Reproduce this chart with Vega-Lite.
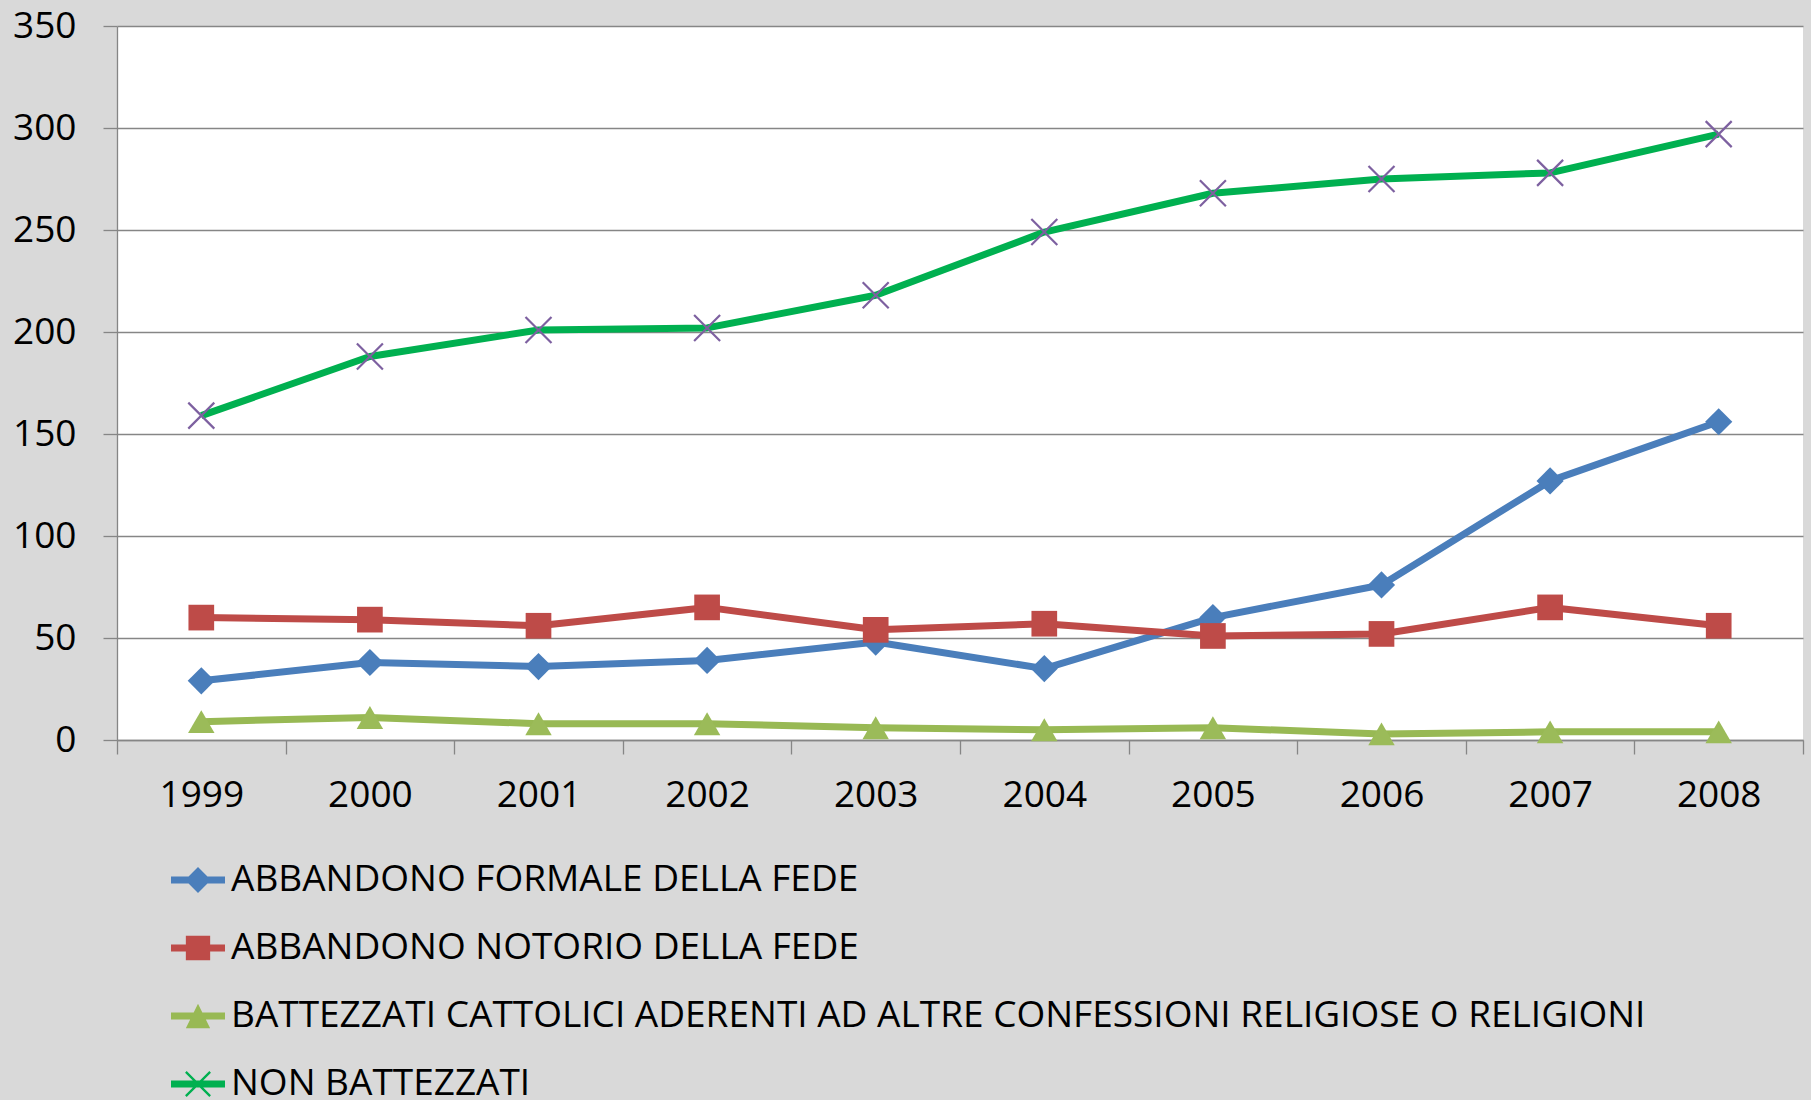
{
  "$schema": "https://vega.github.io/schema/vega-lite/v6.json",
  "width": 1686,
  "height": 714,
  "autosize": "none",
  "padding": {"left": 117, "top": 26, "right": 8, "bottom": 360},
  "background": "#d9d9d9",
  "config": {
    "view": {"fill": "white", "stroke": null},
    "font": "Open Sans",
    "legend": {
      "labelFont": "Open Sans",
      "labelFontSize": 37,
      "labelColor": "black",
      "labelLimit": 3000,
      "labelOffset": 6,
      "rowPadding": 23,
      "padding": 0,
      "symbolSize": 2916,
      "symbolStrokeWidth": 0,
      "symbolOpacity": 1
    }
  },
  "data": {
    "values": [
      {"anno": 1999, "serie": "ABBANDONO FORMALE DELLA FEDE", "valore": 29},
      {"anno": 2000, "serie": "ABBANDONO FORMALE DELLA FEDE", "valore": 38},
      {"anno": 2001, "serie": "ABBANDONO FORMALE DELLA FEDE", "valore": 36},
      {"anno": 2002, "serie": "ABBANDONO FORMALE DELLA FEDE", "valore": 39},
      {"anno": 2003, "serie": "ABBANDONO FORMALE DELLA FEDE", "valore": 48},
      {"anno": 2004, "serie": "ABBANDONO FORMALE DELLA FEDE", "valore": 35},
      {"anno": 2005, "serie": "ABBANDONO FORMALE DELLA FEDE", "valore": 60},
      {"anno": 2006, "serie": "ABBANDONO FORMALE DELLA FEDE", "valore": 76},
      {"anno": 2007, "serie": "ABBANDONO FORMALE DELLA FEDE", "valore": 127},
      {"anno": 2008, "serie": "ABBANDONO FORMALE DELLA FEDE", "valore": 156},
      {"anno": 1999, "serie": "ABBANDONO NOTORIO DELLA FEDE", "valore": 60},
      {"anno": 2000, "serie": "ABBANDONO NOTORIO DELLA FEDE", "valore": 59},
      {"anno": 2001, "serie": "ABBANDONO NOTORIO DELLA FEDE", "valore": 56},
      {"anno": 2002, "serie": "ABBANDONO NOTORIO DELLA FEDE", "valore": 65},
      {"anno": 2003, "serie": "ABBANDONO NOTORIO DELLA FEDE", "valore": 54},
      {"anno": 2004, "serie": "ABBANDONO NOTORIO DELLA FEDE", "valore": 57},
      {"anno": 2005, "serie": "ABBANDONO NOTORIO DELLA FEDE", "valore": 51},
      {"anno": 2006, "serie": "ABBANDONO NOTORIO DELLA FEDE", "valore": 52},
      {"anno": 2007, "serie": "ABBANDONO NOTORIO DELLA FEDE", "valore": 65},
      {"anno": 2008, "serie": "ABBANDONO NOTORIO DELLA FEDE", "valore": 56},
      {"anno": 1999, "serie": "BATTEZZATI CATTOLICI ADERENTI AD ALTRE CONFESSIONI RELIGIOSE O RELIGIONI", "valore": 9},
      {"anno": 2000, "serie": "BATTEZZATI CATTOLICI ADERENTI AD ALTRE CONFESSIONI RELIGIOSE O RELIGIONI", "valore": 11},
      {"anno": 2001, "serie": "BATTEZZATI CATTOLICI ADERENTI AD ALTRE CONFESSIONI RELIGIOSE O RELIGIONI", "valore": 8},
      {"anno": 2002, "serie": "BATTEZZATI CATTOLICI ADERENTI AD ALTRE CONFESSIONI RELIGIOSE O RELIGIONI", "valore": 8},
      {"anno": 2003, "serie": "BATTEZZATI CATTOLICI ADERENTI AD ALTRE CONFESSIONI RELIGIOSE O RELIGIONI", "valore": 6},
      {"anno": 2004, "serie": "BATTEZZATI CATTOLICI ADERENTI AD ALTRE CONFESSIONI RELIGIOSE O RELIGIONI", "valore": 5},
      {"anno": 2005, "serie": "BATTEZZATI CATTOLICI ADERENTI AD ALTRE CONFESSIONI RELIGIOSE O RELIGIONI", "valore": 6},
      {"anno": 2006, "serie": "BATTEZZATI CATTOLICI ADERENTI AD ALTRE CONFESSIONI RELIGIOSE O RELIGIONI", "valore": 3},
      {"anno": 2007, "serie": "BATTEZZATI CATTOLICI ADERENTI AD ALTRE CONFESSIONI RELIGIOSE O RELIGIONI", "valore": 4},
      {"anno": 2008, "serie": "BATTEZZATI CATTOLICI ADERENTI AD ALTRE CONFESSIONI RELIGIOSE O RELIGIONI", "valore": 4},
      {"anno": 1999, "serie": "NON BATTEZZATI", "valore": 159},
      {"anno": 2000, "serie": "NON BATTEZZATI", "valore": 188},
      {"anno": 2001, "serie": "NON BATTEZZATI", "valore": 201},
      {"anno": 2002, "serie": "NON BATTEZZATI", "valore": 202},
      {"anno": 2003, "serie": "NON BATTEZZATI", "valore": 218},
      {"anno": 2004, "serie": "NON BATTEZZATI", "valore": 249},
      {"anno": 2005, "serie": "NON BATTEZZATI", "valore": 268},
      {"anno": 2006, "serie": "NON BATTEZZATI", "valore": 275},
      {"anno": 2007, "serie": "NON BATTEZZATI", "valore": 278},
      {"anno": 2008, "serie": "NON BATTEZZATI", "valore": 297}
    ]
  },
  "encoding": {
    "y": {
      "field": "valore",
      "type": "quantitative",
      "scale": {"domain": [0, 350], "nice": false, "zero": true},
      "axis": {
        "values": [0, 50, 100, 150, 200, 250, 300, 350],
        "title": null,
        "grid": true,
        "gridColor": "#868686",
        "gridWidth": 1.3,
        "domain": true,
        "domainColor": "#868686",
        "domainWidth": 1.3,
        "ticks": true,
        "tickColor": "#868686",
        "tickWidth": 1.3,
        "tickSize": 14,
        "labelFont": "Open Sans",
        "labelFontSize": 37,
        "labelColor": "black",
        "labelPadding": 27
      }
    }
  },
  "resolve": {"axis": {"x": "independent"}},
  "layer": [
    {
      "transform": [{"filter": {"field": "serie", "equal": "ABBANDONO FORMALE DELLA FEDE"}}],
      "mark": {"type": "line", "strokeWidth": 7, "strokeJoin": "round", "color": "#4a7ebb", "opacity": 1},
      "encoding": {
        "x": {
          "field": "anno",
          "type": "quantitative",
          "scale": {"domain": [1998.5, 2008.5], "nice": false, "zero": false},
          "axis": {
            "orient": "bottom",
            "values": [1998.5, 1999.5, 2000.5, 2001.5, 2002.5, 2003.5, 2004.5, 2005.5, 2006.5, 2007.5, 2008.5],
            "labels": false,
            "title": null,
            "grid": false,
            "domain": true,
            "domainColor": "#868686",
            "domainWidth": 1.3,
            "ticks": true,
            "tickColor": "#868686",
            "tickWidth": 1.3,
            "tickSize": 14
          }
        }
      }
    },
    {
      "transform": [{"filter": {"field": "serie", "equal": "ABBANDONO FORMALE DELLA FEDE"}}],
      "mark": {"type": "point", "shape": "diamond", "filled": true, "size": 740, "color": "#4a7ebb", "opacity": 1, "strokeWidth": 0},
      "encoding": {
        "x": {
          "field": "anno",
          "type": "quantitative",
          "axis": {
            "orient": "bottom",
            "values": [1999, 2000, 2001, 2002, 2003, 2004, 2005, 2006, 2007, 2008],
            "format": "d",
            "title": null,
            "grid": false,
            "domain": false,
            "ticks": false,
            "tickSize": 0,
            "labelFont": "Open Sans",
            "labelFontSize": 37,
            "labelColor": "black",
            "labelPadding": 37
          }
        }
      }
    },
    {
      "transform": [{"filter": {"field": "serie", "equal": "ABBANDONO NOTORIO DELLA FEDE"}}],
      "mark": {"type": "line", "strokeWidth": 7, "strokeJoin": "round", "color": "#be4b48", "opacity": 1},
      "encoding": {"x": {"field": "anno", "type": "quantitative", "axis": null}}
    },
    {
      "transform": [{"filter": {"field": "serie", "equal": "ABBANDONO NOTORIO DELLA FEDE"}}],
      "mark": {"type": "point", "shape": "square", "filled": true, "size": 660, "color": "#be4b48", "opacity": 1, "strokeWidth": 0},
      "encoding": {"x": {"field": "anno", "type": "quantitative", "axis": null}}
    },
    {
      "transform": [{"filter": {"field": "serie", "equal": "BATTEZZATI CATTOLICI ADERENTI AD ALTRE CONFESSIONI RELIGIOSE O RELIGIONI"}}],
      "mark": {"type": "line", "strokeWidth": 7, "strokeJoin": "round", "color": "#98b954", "opacity": 1},
      "encoding": {"x": {"field": "anno", "type": "quantitative", "axis": null}}
    },
    {
      "transform": [{"filter": {"field": "serie", "equal": "BATTEZZATI CATTOLICI ADERENTI AD ALTRE CONFESSIONI RELIGIOSE O RELIGIONI"}}],
      "mark": {"type": "point", "shape": "triangle-up", "filled": true, "size": 700, "color": "#9bbb59", "opacity": 1, "strokeWidth": 0},
      "encoding": {"x": {"field": "anno", "type": "quantitative", "axis": null}}
    },
    {
      "transform": [{"filter": {"field": "serie", "equal": "NON BATTEZZATI"}}],
      "mark": {"type": "line", "strokeWidth": 7, "strokeJoin": "round", "color": "#00b050", "opacity": 1},
      "encoding": {"x": {"field": "anno", "type": "quantitative", "axis": null}}
    },
    {
      "transform": [{"filter": {"field": "serie", "equal": "NON BATTEZZATI"}}],
      "mark": {"type": "point", "shape": "M-1,-1L1,1M1,-1L-1,1", "filled": false, "size": 676, "color": "#7d60a0", "opacity": 1, "strokeWidth": 2.2},
      "encoding": {"x": {"field": "anno", "type": "quantitative", "axis": null}}
    },
    {
      "transform": [{"filter": "datum.valore < 0"}],
      "mark": {"type": "point", "filled": true, "opacity": 1, "strokeWidth": 0},
      "encoding": {
        "x": {"field": "anno", "type": "quantitative", "axis": null},
        "color": {
          "field": "serie",
          "type": "nominal",
          "scale": {
            "domain": ["ABBANDONO FORMALE DELLA FEDE", "ABBANDONO NOTORIO DELLA FEDE", "BATTEZZATI CATTOLICI ADERENTI AD ALTRE CONFESSIONI RELIGIOSE O RELIGIONI", "NON BATTEZZATI"],
            "range": ["#4a7ebb", "#be4b48", "#98b954", "#00b050"]
          },
          "legend": {"title": null, "orient": "none", "legendX": 54, "legendY": 827, "symbolSize": 2916, "symbolStrokeWidth": 0, "symbolOpacity": 1, "labelFontSize": 37, "labelLimit": 3000, "labelOffset": 6, "rowPadding": 23}
        },
        "shape": {
          "field": "serie",
          "type": "nominal",
          "scale": {
            "domain": ["ABBANDONO FORMALE DELLA FEDE", "ABBANDONO NOTORIO DELLA FEDE", "BATTEZZATI CATTOLICI ADERENTI AD ALTRE CONFESSIONI RELIGIOSE O RELIGIONI", "NON BATTEZZATI"],
            "range": [
              "M-1,-0.13L-0.35,-0.13L0,-0.48L0.35,-0.13L1,-0.13L1,0.13L0.35,0.13L0,0.48L-0.35,0.13L-1,0.13Z",
              "M-1,-0.13L-0.45,-0.13L-0.45,-0.45L0.45,-0.45L0.45,-0.13L1,-0.13L1,0.13L0.45,0.13L0.45,0.45L-0.45,0.45L-0.45,0.13L-1,0.13Z",
              "M-1,-0.13L-0.16,-0.13L0,-0.45L0.16,-0.13L1,-0.13L1,0.13L0.29,0.13L0.45,0.45L-0.45,0.45L-0.29,0.13L-1,0.13Z",
              "M-1,-0.13L1,-0.13L1,0.13L-1,0.13Z M-0.42,-0.48L0.48,0.42L0.42,0.48L-0.48,-0.42Z M0.48,-0.42L-0.42,0.48L-0.48,0.42L0.42,-0.48Z"
            ]
          },
          "legend": {"title": null, "orient": "none", "legendX": 54, "legendY": 827, "symbolSize": 2916, "symbolStrokeWidth": 0, "symbolOpacity": 1, "labelFontSize": 37, "labelLimit": 3000, "labelOffset": 6, "rowPadding": 23}
        }
      }
    }
  ]
}
